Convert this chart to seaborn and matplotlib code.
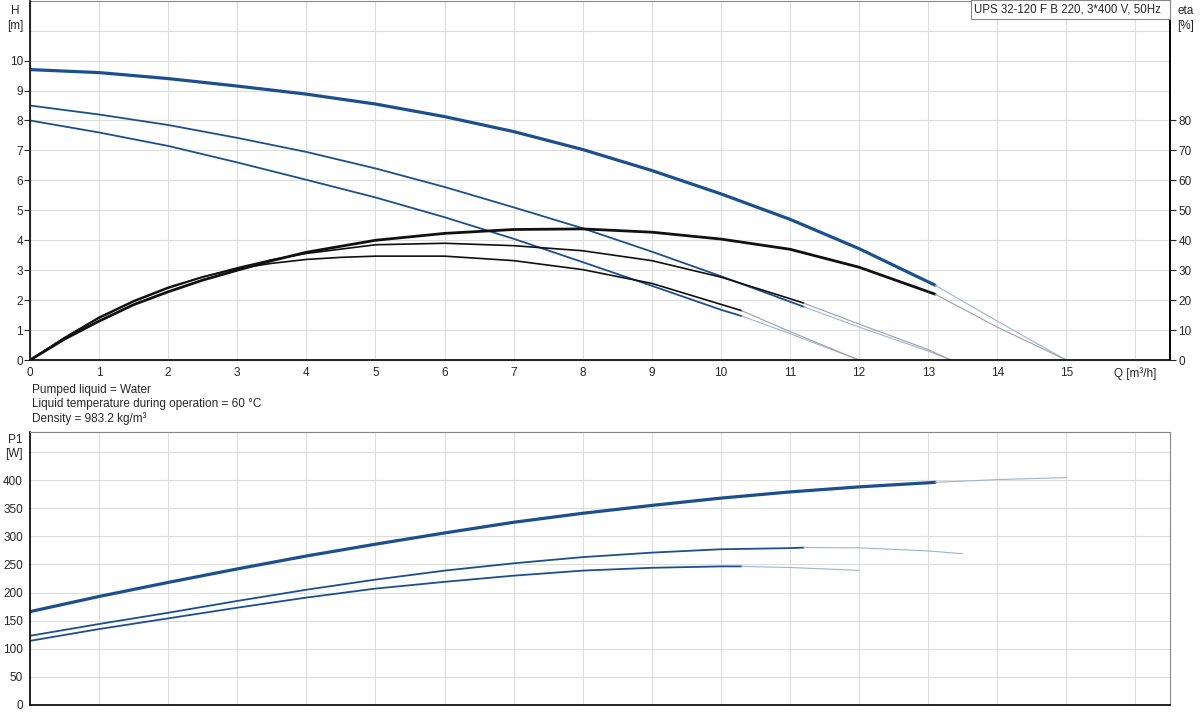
"""
Pump curves UPS 32-120 F B 220
"""
import numpy as np
import pandas as pd
import matplotlib
matplotlib.use('Agg')
import matplotlib.pyplot as plt
import seaborn as sns

# head curves [m] (speed 3, 2, 1), flow in m3/h
h3_q = [0, 1, 2, 3, 4, 5, 6, 7, 8, 9, 10, 11, 12, 13.1]
h3 = [9.7, 9.6, 9.4, 9.15, 8.88, 8.55, 8.13, 7.63, 7.03, 6.33, 5.55, 4.7, 3.72, 2.5]
h2_q = [0, 1, 2, 3, 4, 5, 6, 7, 8, 9, 10, 11, 11.2]
h2 = [8.5, 8.2, 7.85, 7.42, 6.95, 6.4, 5.78, 5.1, 4.4, 3.62, 2.8, 1.95, 1.78]
h1_q = [0, 1, 2, 3, 4, 5, 6, 7, 8, 9, 10, 10.3]
h1 = [8.0, 7.6, 7.15, 6.6, 6.02, 5.43, 4.77, 4.05, 3.27, 2.48, 1.68, 1.47]

# efficiency curves [%]
e3_q = [0, 0.5, 1, 1.5, 2, 2.5, 3, 3.5, 4, 5, 6, 7, 8, 9, 10, 11, 12, 13.1]
e3 = [0, 7.0, 13, 18.5, 22.8, 26.7, 30, 33.2, 36, 40, 42.3, 43.6, 43.8, 42.7, 40.4, 37, 31, 22]
e2_q = [0, 0.5, 1, 1.5, 2, 2.5, 3, 3.5, 4, 5, 6, 7, 8, 9, 10, 11, 11.2]
e2 = [0, 7.4, 14, 19.5, 24, 27.7, 30.8, 33.5, 35.6, 38.5, 39, 38.2, 36.5, 33.2, 27.7, 20.5, 19]
e1_q = [0, 0.5, 1, 1.5, 2, 2.5, 3, 3.5, 4, 4.5, 5, 6, 7, 8, 9, 10, 10.3]
e1 = [0, 7.5, 14.3, 19.8, 24.3, 27.8, 30.5, 32.3, 33.6, 34.3, 34.7, 34.7, 33.2, 30.2, 25.6, 18.6, 16.5]

# power curves P1 [W]
p3 = [166, 193, 218, 242, 265, 286, 306, 325, 341, 355, 368, 379, 388, 396]
p2 = [123, 144, 164, 185, 205, 223, 239, 252, 263, 271, 277, 279, 280]
p1 = [114, 135, 154, 173, 191, 207, 219, 230, 239, 244, 246.5, 246.5]

# thin extensions outside the allowed range
h3_ext_q = [13.1, 14, 15]
h3_ext = [2.5, 1.3, 0]
e3_ext = [22, 11, 0]
p3_ext_q = [13.1, 14, 15]
p3_ext = [396, 401, 404.5]
h2_ext_q = [11.2, 12, 13, 13.33]
h2_ext = [1.78, 1.1, 0.3, 0]
e2_ext = [19, 12, 3.5, 0]
p2_ext_q = [11.2, 12, 13, 13.5]
p2_ext = [280, 279.5, 274, 269]
h1_ext_q = [10.3, 11, 12]
h1_ext = [1.47, 0.88, 0]
e1_ext = [16.5, 9.5, 0]
p1_ext_q = [10.3, 11, 12]
p1_ext = [246.5, 244.5, 239.5]

title = "UPS 32-120 F B 220, 3*400 V, 50Hz"
notes = ["Pumped liquid = Water",
         "Liquid temperature during operation = 60 \u00b0C",
         "Density = 983.2 kg/m\u00b3"]

sns.set_style("white")
plt.rcParams['font.family'] = ['Liberation Sans', 'DejaVu Sans']

blue = '#1c4f8e'
black = '#111111'
thin_blue = '#9fb3cf'
thin_grey = '#a0a0a0'
grid_c = '#dddddd'

fig = plt.figure(figsize=(12, 7.23), dpi=100)
ax = fig.add_axes([0.025, 0.502, 0.95, 0.497])
bx = fig.add_axes([0.025, 0.025, 0.95, 0.377])


def line(axis, x, y, c, lw):
    sns.lineplot(x=x, y=y, ax=axis, color=c, lw=lw, sort=False)


# ---- top: head + efficiency
line(ax, h3_q, h3, blue, 2.3)
line(ax, h2_q, h2, blue, 1.3)
line(ax, h1_q, h1, blue, 1.3)
line(ax, e3_q, np.array(e3) / 10, black, 2.0)
line(ax, e2_q, np.array(e2) / 10, black, 1.2)
line(ax, e1_q, np.array(e1) / 10, black, 1.2)
for xq, yh, ye in [(h3_ext_q, h3_ext, e3_ext), (h2_ext_q, h2_ext, e2_ext),
                   (h1_ext_q, h1_ext, e1_ext)]:
    line(ax, xq, yh, thin_blue, 0.8)
    line(ax, xq, np.array(ye) / 10, thin_grey, 0.8)

ax.set_xlim(0, 16.5)
ax.set_ylim(0, 12)
ax.set_xticks(range(17))
ax.set_xticklabels([str(i) for i in range(16)] + ['Q [m\u00b3/h]'], fontsize=8.5)
ax.set_yticks(range(11))
ax.set_yticklabels([str(i) for i in range(11)], fontsize=8.5)
ax.grid(True, color=grid_c, lw=0.8)
ax.axhline(11, color=grid_c, lw=0.8, zorder=0)
ax.set_axisbelow(True)
ax.tick_params(length=4, width=0.8, pad=1)
for s in ['left', 'bottom', 'right']:
    ax.spines[s].set_color('black')
    ax.spines[s].set_linewidth(1.2)
ax.spines['top'].set_color('#888888')
ax.spines['top'].set_linewidth(0.8)

ex = ax.twinx()
ex.set_ylim(0, 120)
ex.set_yticks(range(0, 81, 10))
ex.set_yticklabels([str(i) for i in range(0, 81, 10)], fontsize=8.5)
ex.tick_params(length=4, width=0.8, pad=2)
ex.spines['right'].set_color('black')
ex.spines['right'].set_linewidth(1.2)
ex.spines['top'].set_visible(False)

# title box in the top-right corner
fig.patches.append(plt.Rectangle((971 / 1200, 1 - 19 / 723), 199 / 1200, 18.5 / 723,
                                 transform=fig.transFigure, fc='white', ec='#888888',
                                 lw=0.8, zorder=5))
fig.text(974 / 1200, 1 - 9.5 / 723, title, ha='left', va='center', fontsize=8.3, zorder=6)

fig.text(0.0125, 0.993, "H", ha='center', va='top', fontsize=8.5)
fig.text(0.0125, 0.973, "[m]", ha='center', va='top', fontsize=8.5)
fig.text(0.988, 0.993, "eta", ha='center', va='top', fontsize=8.5)
fig.text(0.988, 0.973, "[%]", ha='center', va='top', fontsize=8.5)

for i, t in enumerate(notes):
    fig.text(0.027, 1 - (390 + i * 14.5) / 723, t, ha='left', va='center', fontsize=8.5)

# ---- bottom: power
line(bx, h3_q, p3, blue, 2.3)
line(bx, h2_q, p2, blue, 1.3)
line(bx, h1_q, p1, blue, 1.3)
for xq, yp in [(p3_ext_q, p3_ext), (p2_ext_q, p2_ext), (p1_ext_q, p1_ext)]:
    line(bx, xq, yp, thin_blue, 0.8)

bx.set_xlim(0, 16.5)
bx.set_ylim(0, 485)
bx.set_xticks(range(17))
bx.set_xticklabels([])
bx.set_yticks(range(0, 451, 50))
bx.set_yticklabels([str(i) for i in range(0, 401, 50)] + ['[W]'], fontsize=8.5)
bx.grid(True, color=grid_c, lw=0.8)
bx.set_axisbelow(True)
bx.tick_params(length=4, width=0.8, pad=1)
for s in ['left', 'bottom']:
    bx.spines[s].set_color('black')
    bx.spines[s].set_linewidth(1.2)
for s in ['top', 'right']:
    bx.spines[s].set_color('#888888')
    bx.spines[s].set_linewidth(0.8)
fig.text(0.0125, 1 - 440 / 723, "P1", ha='center', va='center', fontsize=8.5)

fig.savefig('out.png', dpi=100)
